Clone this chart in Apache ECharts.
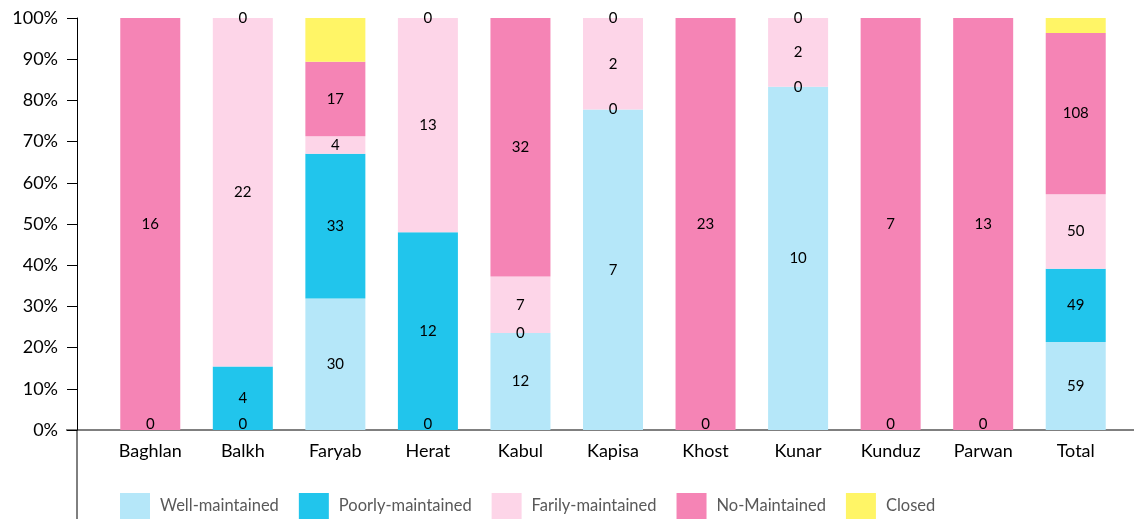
<!DOCTYPE html>
<html>
<head>
<meta charset="utf-8">
<script src="https://cdn.jsdelivr.net/npm/echarts@6/dist/echarts.min.js"></script>
<style>
  html, body { margin: 0; padding: 0; background: #fff; }
  #chart { width: 1134px; height: 519px; }
</style>
</head>
<body>
<div id="chart"></div>
<script>
  // categories and raw counts per maintenance state (null = no label)
  var categories = ['Baghlan', 'Balkh', 'Faryab', 'Herat', 'Kabul', 'Kapisa', 'Khost', 'Kunar', 'Kunduz', 'Parwan', 'Total'];
  var wellMaintained   = [0, 0, 30, 0, 12, 7, 0, 10, 0, 0, 59];
  var poorlyMaintained = [null, 4, 33, 12, 0, 0, null, 0, null, null, 49];
  var fairlyMaintained = [null, 22, 4, 13, 7, 2, null, 2, null, null, 50];
  var noMaintained     = [16, 0, 17, 0, 32, 0, 23, 0, 7, 13, 108];
  var closedSites      = [null, null, 10, null, null, null, null, null, null, null, 10];

  var seriesNames = ['Well-maintained', 'Poorly-maintained', 'Farily-maintained', 'No-Maintained', 'Closed'];
  var colors = ['#b5e7f9', '#21c5ec', '#fdd5e8', '#f584b5', '#fff566'];
  var raw = [wellMaintained, poorlyMaintained, fairlyMaintained, noMaintained, closedSites];

  // totals per category, for the 100% stacking
  var totals = categories.map(function (c, i) {
    var s = 0;
    raw.forEach(function (arr) { s += arr[i] || 0; });
    return s;
  });

  var font = 'Lato';
  var gridLeft = 104, gridRight = 12, gridTop = 18, gridBottom = 89;
  var W = 1134, H = 519;
  var axisY = H - gridBottom;
  var yAxisX = 77;

  var series = raw.map(function (arr, k) {
    return {
      name: seriesNames[k],
      type: 'bar',
      stack: 'all',
      barWidth: 60,
      itemStyle: { color: colors[k] },
      label: {
        show: k < 4,
        position: 'inside',
        color: '#000',
        fontFamily: font,
        fontSize: 15,
        formatter: function (p) { return arr[p.dataIndex]; }
      },
      data: arr.map(function (v, i) {
        if (v == null) return { value: 0, label: { show: false } };
        var pct = v / totals[i] * 100;
        // zero labels sitting on the axis are nudged up a little
        if (k === 0 && v === 0) return { value: pct, label: { offset: [0, -6] } };
        return pct;
      })
    };
  });

  var myChart = echarts.init(document.getElementById('chart'));
  myChart.setOption({
    animation: false,
    color: colors,
    grid: { left: gridLeft, right: gridRight, top: gridTop, bottom: gridBottom },
    legend: {
      left: 120,
      top: 493,
      padding: 0,
      itemWidth: 30,
      itemHeight: 26,
      itemGap: 20,
      icon: 'rect',
      data: seriesNames,
      textStyle: { color: '#595959', fontFamily: font, fontSize: 16.5, padding: [3, 0, 0, 5] }
    },
    xAxis: {
      type: 'category',
      data: categories,
      axisLine: { show: false },
      axisTick: { show: false },
      axisLabel: { color: '#000', fontFamily: font, fontSize: 18, margin: 12 }
    },
    yAxis: {
      type: 'value',
      min: 0,
      max: 100,
      interval: 10,
      offset: gridLeft - yAxisX,
      axisLine: { show: true, lineStyle: { color: '#000', width: 1 } },
      axisTick: { show: true, length: 10, lineStyle: { color: '#000' } },
      splitLine: { show: false },
      axisLabel: { color: '#000', fontFamily: font, fontSize: 18, margin: 19, formatter: '{value}%' }
    },
    graphic: [
      { type: 'line', shape: { x1: 66, y1: axisY, x2: W, y2: axisY }, style: { stroke: '#000', lineWidth: 1 } },
      { type: 'line', shape: { x1: yAxisX, y1: axisY, x2: yAxisX, y2: H }, style: { stroke: '#000', lineWidth: 1 } }
    ],
    series: series
  });
</script>
</body>
</html>
